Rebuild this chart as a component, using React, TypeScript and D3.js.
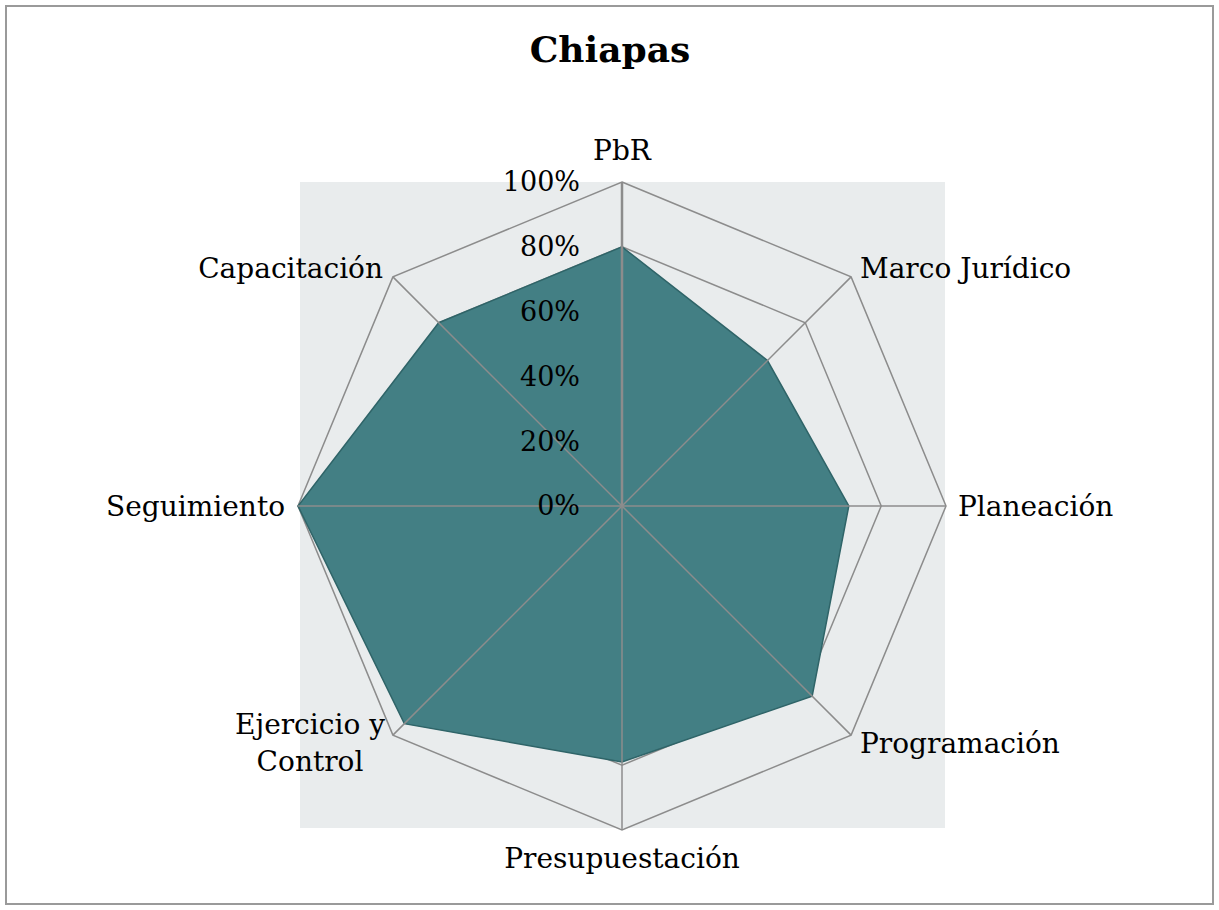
import React from "react";
import * as d3 from "d3";

const categories = ["PbR", "Marco Jurídico", "Planeación", "Programación", "Presupuestación", "Ejercicio y Control", "Seguimiento", "Capacitación"];
const values = [80, 63.5, 70, 83, 79, 95, 100, 80];
const ticks = [0, 20, 40, 60, 80, 100];

const W = 1219, H = 910;
const cx = 622, cy = 506, R = 324;

export default function App() {
  const r = d3.scaleLinear().domain([0, 100]).range([0, R]);
  const n = categories.length;
  const ang = (i: number) => (i * 2 * Math.PI) / n;
  const pt = (i: number, v: number): [number, number] => [cx + r(v) * Math.sin(ang(i)), cy - r(v) * Math.cos(ang(i))];
  const line = d3.line<[number, number]>().curve(d3.curveLinearClosed);
  const dataPath = line(values.map((v, i) => pt(i, v))) || "";
  const ring = (t: number) => line(categories.map((_, i) => pt(i, t))) || "";

  const font = "Georgia, 'DejaVu Serif', serif";
  const labelSize = 28;
  const labelPos: { x: number; y: number; anchor: string; lines: string[] }[] = [
    { x: cx, y: 150, anchor: "middle", lines: ["PbR"] },
    { x: 860, y: 268, anchor: "start", lines: ["Marco Jurídico"] },
    { x: 958, y: 506, anchor: "start", lines: ["Planeación"] },
    { x: 860, y: 743, anchor: "start", lines: ["Programación"] },
    { x: cx, y: 858, anchor: "middle", lines: ["Presupuestación"] },
    { x: 310, y: 724, anchor: "middle", lines: ["Ejercicio y", "Control"] },
    { x: 285, y: 506, anchor: "end", lines: ["Seguimiento"] },
    { x: 383, y: 268, anchor: "end", lines: ["Capacitación"] },
  ];

  return (
    <svg width={W} height={H} style={{ position: "absolute", left: 0, top: 0 }}>
      <rect x={0} y={0} width={W} height={H} fill="#fff" />
      <rect x={6} y={6} width={1207} height={898} fill="#fff" stroke="#9a9a9a" strokeWidth={2} />
      <text x={610} y={62} textAnchor="middle" fontFamily={font} fontWeight="bold" fontSize={36} fill="#000">Chiapas</text>
      <rect x={300} y={182} width={645} height={646} fill="#e9eced" />
      {ticks.slice(1).map((t) => (
        <path key={t} d={ring(t)} fill="none" stroke="#8c8c8c" strokeWidth={1.5} />
      ))}
      <path d={dataPath} fill="#437f84" stroke="#2f6468" strokeWidth={1.5} />
      {categories.map((_, i) => {
        const [x, y] = pt(i, 100);
        return <line key={i} x1={cx} y1={cy} x2={x} y2={y} stroke="#8c8c8c" strokeWidth={i === 0 ? 2.5 : 1.5} />;
      })}
      {ticks.map((t) => (
        <text key={t} x={580} y={cy - r(t)} dy="0.35em" textAnchor="end" fontFamily={font} fontSize={27} fill="#000">{t}%</text>
      ))}
      {labelPos.map((l, i) => (
        <text key={i} x={l.x} y={l.y} textAnchor={l.anchor as any} fontFamily={font} fontSize={labelSize} fill="#000">
          {l.lines.map((s, j) => (
            <tspan key={j} x={l.x} dy={j === 0 ? "0.35em" : "1.32em"}>{s}</tspan>
          ))}
        </text>
      ))}
    </svg>
  );
}
